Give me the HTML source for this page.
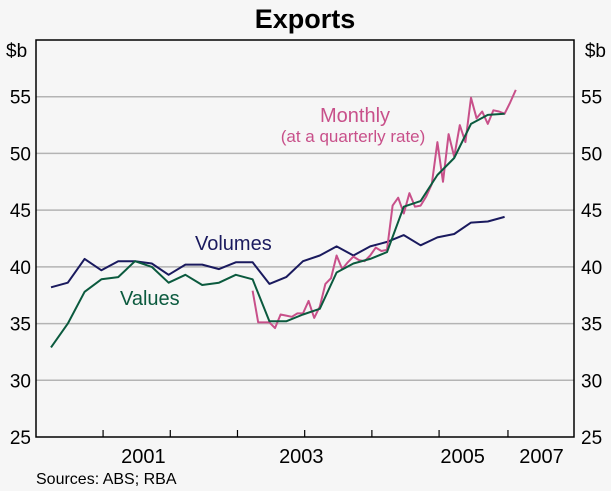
<!DOCTYPE html>
<html><head><meta charset="utf-8"><style>
body{margin:0;background:#f6f6f6;}
svg{display:block;font-family:"Liberation Sans",sans-serif;}
</style></head><body>
<svg id="chart" width="611" height="491" viewBox="0 0 611 491" xmlns="http://www.w3.org/2000/svg">
<rect width="611" height="491" fill="#f6f6f6"/>
<text x="305" y="28" text-anchor="middle" font-size="27" font-weight="bold" fill="#000">Exports</text>
<text x="6" y="57" font-size="19" fill="#000">$b</text>
<text x="606" y="57" text-anchor="end" font-size="19" fill="#000">$b</text>
<g id="grid"></g>
<g id="series"></g>
<g id="axes"></g>
<text x="195" y="250" font-size="20" fill="#1a1a5e">Volumes</text>
<text x="120" y="305" font-size="20" fill="#0b5a3e">Values</text>
<text x="355" y="122" text-anchor="middle" font-size="20" fill="#c8508a">Monthly</text>
<text x="353" y="142" text-anchor="middle" font-size="17" fill="#c8508a">(at a quarterly rate)</text>
<text x="36" y="484" font-size="16" fill="#000">Sources: ABS; RBA</text>
</svg>
<script>
const yTicks=[25,30,35,40,45,50,55];
const xLabels=["2001","2003","2005","2007"];
const xLabelPos=[5.5,14.9,24.5,29.2];
const xTickPos=[3.1,7.1,11.1,15.1,19.1,23.1,27.2];
const volumes=[38.2,38.6,40.7,39.7,40.5,40.5,40.3,39.3,40.2,40.2,39.8,40.4,40.4,38.5,39.1,40.5,41.0,41.8,41.0,41.8,42.2,42.8,41.9,42.6,42.9,43.9,44.0,44.4];
const values=[32.9,35.0,37.8,38.9,39.1,40.5,40.0,38.6,39.3,38.4,38.6,39.3,38.9,35.2,35.2,35.8,36.3,39.5,40.3,40.7,41.3,45.3,45.8,48.1,49.6,52.6,53.4,53.5];
const monthlyStart=12;
const monthly=[37.9,35.1,35.1,35.1,34.6,35.8,35.7,35.6,35.9,35.9,37.0,35.5,36.5,38.5,39.0,41.0,39.8,40.4,40.9,40.6,40.5,41.0,41.7,41.4,41.5,45.4,46.1,44.7,46.5,45.3,45.4,46.2,47.3,51.0,47.5,51.7,49.7,52.5,51.0,54.9,53.1,53.7,52.6,53.8,53.7,53.5,54.5,55.6];
const L=36,R=574,T=40,B=437;
function xs(q){return 51+16.8*q;}
function ys(v){return B-(v-25)*(B-T)/35;}
const NS="http://www.w3.org/2000/svg";
function mk(tag,attrs,parent){const e=document.createElementNS(NS,tag);for(const k in attrs)e.setAttribute(k,attrs[k]);parent.appendChild(e);return e;}
const grid=document.getElementById('grid'),axes=document.getElementById('axes'),series=document.getElementById('series');
yTicks.forEach(v=>{
  if(v>25){const g=mk('line',{x1:L,x2:R,y1:ys(v),y2:ys(v),stroke:'#b4b4b4','stroke-width':1.5},grid);
  
  }
  const t1=mk('text',{x:31,y:ys(v)+7,'text-anchor':'end','font-size':19},axes);t1.textContent=v;
  
  
  const t2=mk('text',{x:581,y:ys(v)+7,'font-size':19},axes);t2.textContent=v;
  
  
});
const frame=mk('rect',{x:L,y:T,width:R-L,height:B-T,fill:'none',stroke:'#000','stroke-width':1.5},axes);


xTickPos.forEach((q,i)=>{const t=mk('line',{x1:xs(q),x2:xs(q),y1:B,y2:B-7,stroke:'#000','stroke-width':1.2},axes);
  
  });
xLabels.forEach((s,i)=>{const t=mk('text',{x:xs(xLabelPos[i]),y:463,'text-anchor':'middle','font-size':20},axes);t.textContent=s;
  
  });
function line(data,off,step,color,name){
  const pts=data.map((v,i)=>xs(off+i*step).toFixed(1)+','+ys(v).toFixed(1)).join(' ');
  const p=mk('polyline',{points:pts,fill:'none',stroke:color,'stroke-width':2,'stroke-linejoin':'round'},series);
  
  
}
line(volumes,0,1,'#1a1a5e','volumes-line');
line(monthly,monthlyStart,1/3,'#c8508a','monthly-line');
line(values,0,1,'#0b5a3e','values-line');
</script>
</body></html>
